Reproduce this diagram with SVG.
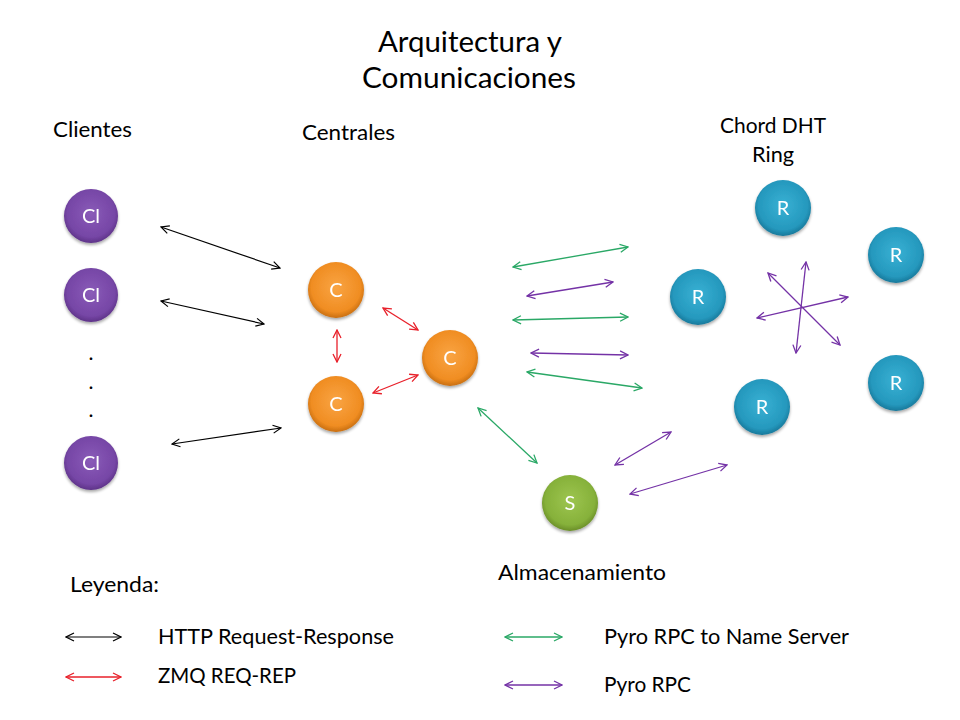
<svg xmlns="http://www.w3.org/2000/svg" width="960" height="720" viewBox="0 0 960 720">
<style>
text{font-family:Lato,"Open Sans","Liberation Sans",sans-serif;fill:#000}
.t{font-size:29px;text-anchor:middle}
.h{font-size:21px}
.n{font-size:20px;fill:#fff;text-anchor:middle}
.lg{font-size:21px}
.k{stroke:#000;stroke-width:1.2;fill:none}
.r{stroke:#e8202a;stroke-width:1.3;fill:none}
.g{stroke:#2aa866;stroke-width:1.3;fill:none}
.p{stroke:#7432a6;stroke-width:1.3;fill:none}
.k{marker-start:url(#mk);marker-end:url(#mk)}
.r{marker-start:url(#mr);marker-end:url(#mr)}
.g{marker-start:url(#mg);marker-end:url(#mg)}
.p{marker-start:url(#mp);marker-end:url(#mp)}
</style>
<defs>
<marker id="mk" viewBox="0 0 10 10" refX="9" refY="5" markerWidth="10" markerHeight="10" markerUnits="userSpaceOnUse" orient="auto-start-reverse"><path d="M1,1 L9,5 L1,9" fill="none" stroke="#000" stroke-width="1.2"/></marker>
<marker id="mr" viewBox="0 0 10 10" refX="9" refY="5" markerWidth="10" markerHeight="10" markerUnits="userSpaceOnUse" orient="auto-start-reverse"><path d="M1,1 L9,5 L1,9" fill="none" stroke="#e8202a" stroke-width="1.3"/></marker>
<marker id="mg" viewBox="0 0 10 10" refX="9" refY="5" markerWidth="10" markerHeight="10" markerUnits="userSpaceOnUse" orient="auto-start-reverse"><path d="M1,1 L9,5 L1,9" fill="none" stroke="#2aa866" stroke-width="1.3"/></marker>
<marker id="mp" viewBox="0 0 10 10" refX="9" refY="5" markerWidth="10" markerHeight="10" markerUnits="userSpaceOnUse" orient="auto-start-reverse"><path d="M1,1 L9,5 L1,9" fill="none" stroke="#7432a6" stroke-width="1.3"/></marker>
<radialGradient id="gp" cx="50%" cy="45%" r="55%"><stop offset="0" stop-color="#8a5bb8"/><stop offset="0.8" stop-color="#7646a6"/><stop offset="1" stop-color="#5e3388"/></radialGradient>
<radialGradient id="go" cx="50%" cy="45%" r="55%"><stop offset="0" stop-color="#f9a443"/><stop offset="0.8" stop-color="#f08d22"/><stop offset="1" stop-color="#c86e10"/></radialGradient>
<radialGradient id="gg" cx="50%" cy="45%" r="55%"><stop offset="0" stop-color="#9dc54f"/><stop offset="0.8" stop-color="#86b13a"/><stop offset="1" stop-color="#6a8e28"/></radialGradient>
<radialGradient id="gt" cx="50%" cy="45%" r="55%"><stop offset="0" stop-color="#38b1d4"/><stop offset="0.8" stop-color="#2598bd"/><stop offset="1" stop-color="#17789a"/></radialGradient>
<filter id="sh" x="-30%" y="-30%" width="160%" height="170%"><feGaussianBlur in="SourceAlpha" stdDeviation="1.5"/><feOffset dy="2" result="b"/><feComponentTransfer><feFuncA type="linear" slope="0.35"/></feComponentTransfer><feMerge><feMergeNode/><feMergeNode in="SourceGraphic"/></feMerge></filter>
</defs>
<rect width="960" height="720" fill="#fff"/>

<g id="title">
<text class="t" x="470" y="52" textLength="184" lengthAdjust="spacingAndGlyphs">Arquitectura y</text>
<text class="t" x="469" y="88" textLength="214" lengthAdjust="spacingAndGlyphs">Comunicaciones</text>
</g>
<g id="headers">
<text class="h" x="53" y="137" textLength="79" lengthAdjust="spacingAndGlyphs">Clientes</text>
<text class="h" x="302" y="140" textLength="93" lengthAdjust="spacingAndGlyphs">Centrales</text>
<text class="h" x="720" y="133" textLength="106" lengthAdjust="spacingAndGlyphs">Chord DHT</text>
<text class="h" x="752" y="162" textLength="42" lengthAdjust="spacingAndGlyphs">Ring</text>
<text class="h" x="498" y="580" textLength="168" lengthAdjust="spacingAndGlyphs">Almacenamiento</text>
</g>

<g id="connectors">
<line class="k" x1="161" y1="227" x2="280" y2="268"/>
<line class="k" x1="161" y1="301" x2="264" y2="324"/>
<line class="k" x1="172" y1="444" x2="281" y2="428"/>
<line class="r" x1="383" y1="308" x2="418" y2="330"/>
<line class="r" x1="337" y1="330" x2="337" y2="362"/>
<line class="r" x1="373" y1="393" x2="418" y2="375"/>
<line class="g" x1="513" y1="267" x2="628" y2="247"/>
<line class="p" x1="527" y1="296" x2="613" y2="282"/>
<line class="g" x1="513" y1="320" x2="628" y2="317"/>
<line class="p" x1="531" y1="353" x2="628" y2="355"/>
<line class="g" x1="527" y1="372" x2="642" y2="388"/>
<line class="g" x1="478" y1="408" x2="537" y2="463"/>
<line class="p" x1="615" y1="465" x2="671" y2="432"/>
<line class="p" x1="630" y1="494" x2="727" y2="465"/>
<line class="p" x1="806" y1="262" x2="796" y2="353"/>
<line class="p" x1="768" y1="273" x2="840" y2="345"/>
<line class="p" x1="757" y1="318" x2="848" y2="297"/>
</g>

<g id="client1" filter="url(#sh)"><circle cx="91" cy="216" r="27" fill="url(#gp)"/><text class="n" x="91" y="223">Cl</text></g>
<g id="client2" filter="url(#sh)"><circle cx="91" cy="295" r="27" fill="url(#gp)"/><text class="n" x="91" y="302">Cl</text></g>
<g id="dots"><text class="h" x="91" y="360" text-anchor="middle">.</text><text class="h" x="91" y="389" text-anchor="middle">.</text><text class="h" x="91" y="417" text-anchor="middle">.</text></g>
<g id="client3" filter="url(#sh)"><circle cx="91" cy="463" r="27" fill="url(#gp)"/><text class="n" x="91" y="470">Cl</text></g>

<g id="central1" filter="url(#sh)"><circle cx="336" cy="290" r="28" fill="url(#go)"/><text class="n" x="336" y="297">C</text></g>
<g id="central2" filter="url(#sh)"><circle cx="336" cy="404" r="28" fill="url(#go)"/><text class="n" x="336" y="411">C</text></g>
<g id="central3" filter="url(#sh)"><circle cx="450" cy="358" r="28" fill="url(#go)"/><text class="n" x="450" y="365">C</text></g>

<g id="storage" filter="url(#sh)"><circle cx="570" cy="503" r="28" fill="url(#gg)"/><text class="n" x="570" y="510">S</text></g>

<g id="ring1" filter="url(#sh)"><circle cx="783" cy="208" r="28" fill="url(#gt)"/><text class="n" x="783" y="215">R</text></g>
<g id="ring2" filter="url(#sh)"><circle cx="896" cy="255" r="28" fill="url(#gt)"/><text class="n" x="896" y="262">R</text></g>
<g id="ring3" filter="url(#sh)"><circle cx="698" cy="297" r="28" fill="url(#gt)"/><text class="n" x="698" y="304">R</text></g>
<g id="ring4" filter="url(#sh)"><circle cx="896" cy="383" r="28" fill="url(#gt)"/><text class="n" x="896" y="390">R</text></g>
<g id="ring5" filter="url(#sh)"><circle cx="762" cy="407" r="28" fill="url(#gt)"/><text class="n" x="762" y="414">R</text></g>

<g id="legend">
<text class="lg" x="70" y="592" textLength="89" lengthAdjust="spacingAndGlyphs">Leyenda:</text>
<line class="k" x1="66" y1="637" x2="121" y2="637"/>
<text class="lg" x="158" y="644" textLength="236" lengthAdjust="spacingAndGlyphs">HTTP Request-Response</text>
<line class="r" x1="66" y1="677" x2="121" y2="677"/>
<text class="lg" x="158" y="683" textLength="138" lengthAdjust="spacingAndGlyphs">ZMQ REQ-REP</text>
<line class="g" x1="505" y1="637" x2="562" y2="637"/>
<text class="lg" x="604" y="644" textLength="245" lengthAdjust="spacingAndGlyphs">Pyro RPC to Name Server</text>
<line class="p" x1="505" y1="685" x2="562" y2="685"/>
<text class="lg" x="604" y="692" textLength="87" lengthAdjust="spacingAndGlyphs">Pyro RPC</text>
</g>
</svg>
